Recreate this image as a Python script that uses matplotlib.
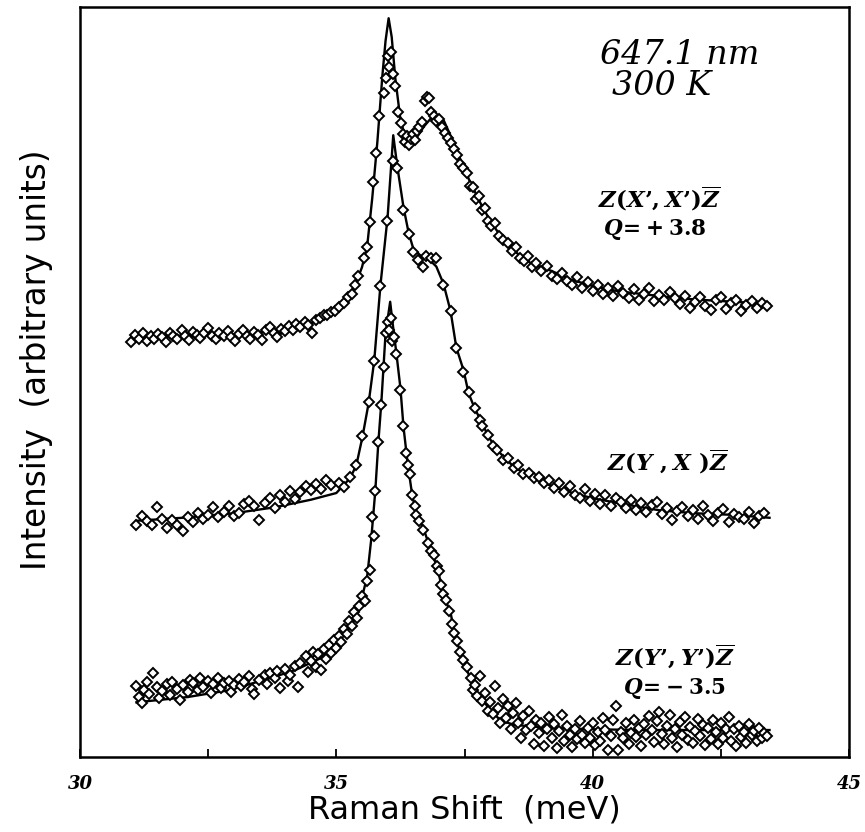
import matplotlib
matplotlib.use("Agg")
import matplotlib.pyplot as plt

# fitted Fano curves (x in meV, y in arbitrary units, offsets included)
fit_xx_x = [31.0, 32.0, 33.0, 33.5, 34.0, 34.5, 34.8, 35.0, 35.2, 35.35, 35.5, 35.6, 35.7, 35.8,
            35.9, 35.96, 36.02, 36.08, 36.15, 36.25, 36.35, 36.45, 36.55, 36.7, 36.85, 36.97,
            37.1, 37.25, 37.4, 37.6, 37.8, 38.0, 38.2, 38.5, 38.8, 39.2, 39.6, 40.0, 40.5,
            41.0, 41.5, 42.0, 42.5, 43.0, 43.45]
fit_xx_y = [56.0, 56.2, 56.3, 56.6, 57.0, 57.8, 58.8, 59.8, 61.0, 62.6, 65.3, 68.0, 74.5, 82.0,
            91.0, 95.5, 98.5, 96.0, 90.5, 85.0, 82.5, 81.9, 82.4, 84.0, 85.2, 85.6,
            84.8, 82.5, 80.0, 76.8, 74.0, 71.5, 69.5, 67.3, 65.8, 64.8, 63.6, 62.8, 62.1,
            61.7, 61.3, 61.0, 60.8, 60.6, 60.4]

fit_yx_x = [31.1, 32.0, 33.0, 33.8, 34.5, 35.0, 35.27, 35.39, 35.51, 35.63, 35.74, 35.86, 36.0,
            36.11, 36.19, 36.31, 36.41, 36.5, 36.65, 36.8, 36.95, 37.09, 37.23, 37.34, 37.48,
            37.58, 37.71, 37.85, 37.95, 38.14, 38.46, 38.73, 39.0, 39.4, 40.0, 40.7, 41.3,
            42.0, 42.7, 43.45]
fit_yx_y = [31.5, 31.9, 32.5, 33.3, 34.3, 35.2, 37.2, 38.9, 42.7, 47.2, 52.9, 62.9, 72.0,
            82.9, 78.7, 73.3, 69.9, 67.8, 66.8, 66.4, 65.4, 63.1, 59.4, 54.6, 51.6,
            48.5, 46.3, 44.5, 42.9, 40.9, 38.7, 37.6, 36.7, 35.6, 34.5, 33.6, 32.9,
            32.5, 32.3, 31.9]

fit_yy_x = [31.1, 32.1, 32.9, 33.7, 34.2, 34.7, 35.0, 35.27, 35.47, 35.6, 35.68, 35.76, 35.82,
            35.88, 35.92, 35.96, 36.05, 36.09, 36.17, 36.25, 36.31, 36.39, 36.48, 36.56, 36.7,
            36.84, 36.97, 37.09, 37.23, 37.32, 37.48, 37.62, 37.75, 38.0, 38.2, 38.46, 39.1,
            40.0, 41.0, 42.0, 43.45]
fit_yy_y = [7.3, 8.0, 8.9, 10.5, 11.6, 13.2, 15.2, 17.9, 20.5, 24.0, 29.0, 35.5, 42.0,
            47.5, 52.0, 56.5, 60.7, 58.3, 53.9, 49.2, 44.0, 39.2, 34.9, 32.5, 30.5,
            27.6, 25.3, 21.6, 19.2, 15.9, 12.9, 10.3, 8.5, 6.3, 4.9, 4.3, 3.9,
            3.7, 3.6, 3.6, 3.6]

# measured points
pts_xx_x = [31.0, 31.08, 31.15, 31.22, 31.3, 31.38, 31.45, 31.52, 31.6, 31.68, 31.75, 31.82,
            31.9, 31.98, 32.05, 32.12, 32.2, 32.28, 32.35, 32.42, 32.5, 32.58, 32.65, 32.72,
            32.8, 32.88, 32.95, 33.02, 33.1, 33.18, 33.25, 33.32, 33.4, 33.48, 33.55, 33.62,
            33.7, 33.78, 33.85, 33.92, 34.0, 34.08, 34.15, 34.22, 34.3, 34.38, 34.45, 34.52,
            34.6, 34.68, 34.75, 34.82, 34.9, 34.98, 35.05, 35.14, 35.22, 35.31, 35.37, 35.43,
            35.53, 35.59, 35.66, 35.72, 35.78, 35.84, 35.92, 35.97, 36.0, 36.03, 36.06, 36.1,
            36.14, 36.2, 36.26, 36.3, 36.34, 36.38, 36.42, 36.46, 36.5, 36.54, 36.58, 36.62,
            36.68, 36.72, 36.76, 36.8, 36.85, 36.9, 36.95, 37.0, 37.06, 37.12, 37.18, 37.24,
            37.3, 37.36, 37.42, 37.48, 37.54, 37.6, 37.66, 37.72, 37.78, 37.84, 37.9, 37.96,
            38.02, 38.1, 38.18, 38.26, 38.34, 38.42, 38.5, 38.58, 38.66, 38.74, 38.82, 38.9,
            39.0, 39.1, 39.2, 39.3, 39.4, 39.5, 39.6, 39.7, 39.8, 39.9, 40.0, 40.1, 40.2,
            40.3, 40.4, 40.5, 40.6, 40.7, 40.8, 40.9, 41.0, 41.1, 41.2, 41.3, 41.4, 41.5,
            41.6, 41.7, 41.8, 41.9, 42.0, 42.1, 42.2, 42.3, 42.4, 42.5, 42.6, 42.7, 42.8,
            42.9, 43.0, 43.1, 43.2, 43.3, 43.4]
pts_xx_y = [55.4, 56.3, 55.8, 56.6, 55.5, 56.1, 55.7, 56.4, 56.0, 55.3, 56.5, 56.2,
            55.8, 56.9, 56.1, 55.6, 56.7, 56.3, 55.9, 56.5, 57.2, 56.2, 55.7, 56.6,
            56.1, 56.8, 56.0, 55.5, 56.4, 57.0, 56.2, 55.8, 56.7, 56.3, 55.6, 56.9,
            57.3, 56.5, 56.0, 57.1, 56.8, 57.5, 57.0, 57.8, 57.4, 58.0, 57.6, 56.6,
            58.3, 58.6, 58.9, 58.9, 59.3, 59.5, 60.0, 60.5, 61.3, 61.7, 63.0, 64.2,
            66.5, 68.0, 71.3, 76.7, 80.5, 85.5, 88.5, 90.5, 93.5, 92.0, 94.0, 91.0,
            89.5, 86.0, 84.5, 83.0, 82.0, 82.8, 81.6, 82.4, 83.0, 82.2, 83.5, 84.0,
            84.6, 87.5, 88.0, 87.8, 86.0, 85.5, 84.8, 85.0, 84.0, 83.2, 82.5, 81.8,
            81.0, 80.2, 79.0, 78.5, 77.8, 76.2, 76.0, 74.4, 74.8, 72.9, 73.2, 71.5,
            70.8, 71.2, 69.5, 69.0, 68.6, 67.5, 68.0, 66.6, 66.2, 66.8, 65.4, 65.9,
            64.8, 65.5, 64.2, 63.7, 64.6, 63.5, 63.0, 64.0, 62.6, 63.3, 62.2, 63.0, 61.8,
            62.6, 61.5, 62.8, 61.9, 61.2, 62.4, 61.0, 61.8, 62.5, 60.8, 61.6, 60.9, 62.0,
            61.2, 60.4, 61.5, 59.9, 60.7, 61.4, 60.2, 59.6, 60.9, 61.3, 59.8, 60.5, 61.0,
            59.5, 60.3, 60.8, 59.9, 60.5, 60.2]

pts_yx_x = [31.1, 31.2, 31.3, 31.4, 31.5, 31.6, 31.7, 31.8, 31.9, 32.0, 32.1, 32.2, 32.3,
            32.4, 32.5, 32.6, 32.7, 32.8, 32.9, 33.0, 33.1, 33.2, 33.3, 33.4, 33.5, 33.6,
            33.7, 33.8, 33.9, 34.0, 34.1, 34.2, 34.3, 34.4, 34.5, 34.6, 34.7, 34.8, 34.9,
            35.05, 35.15, 35.27, 35.39, 35.51, 35.63, 35.74, 35.86, 35.98, 36.1, 36.19,
            36.31, 36.41, 36.5, 36.6, 36.7, 36.75, 36.85, 36.95, 37.09, 37.23, 37.34, 37.48,
            37.58, 37.71, 37.8, 37.85, 37.95, 38.05, 38.14, 38.25, 38.35, 38.46, 38.55,
            38.65, 38.75, 38.85, 38.95, 39.05, 39.15, 39.25, 39.35, 39.45, 39.55, 39.65,
            39.75, 39.85, 39.95, 40.05, 40.15, 40.25, 40.35, 40.45, 40.55, 40.65, 40.75,
            40.85, 40.95, 41.05, 41.15, 41.25, 41.35, 41.45, 41.55, 41.65, 41.75, 41.85,
            41.95, 42.05, 42.15, 42.25, 42.35, 42.45, 42.55, 42.65, 42.75, 42.85, 42.95,
            43.05, 43.15, 43.25, 43.35]
pts_yx_y = [31.0, 32.2, 31.5, 31.0, 33.4, 31.8, 30.5, 31.6, 30.9, 30.2, 32.0, 31.4, 32.6,
            31.8, 32.3, 33.3, 32.0, 32.7, 33.5, 32.1, 32.6, 33.8, 34.2, 33.5, 31.6, 33.9,
            34.6, 33.2, 34.9, 34.0, 35.5, 34.4, 35.3, 36.1, 35.6, 36.4, 35.8, 37.0, 36.3,
            36.5, 36.0, 37.3, 39.0, 42.8, 47.3, 52.8, 62.8, 71.5, 79.5, 78.5,
            73.0, 69.8, 67.3, 66.3, 65.3, 66.8, 66.5, 66.6, 63.0, 59.5, 54.6, 51.4,
            48.7, 46.5, 45.0, 44.2, 43.0, 41.5, 41.0, 39.6, 39.9, 38.6, 38.9,
            37.8, 37.9, 37.2, 37.4, 36.5, 36.9, 35.9, 36.6, 35.3, 36.1, 35.0,
            34.6, 35.7, 34.2, 35.1, 33.8, 34.9, 33.5, 34.5, 34.0, 33.2, 34.3,
            33.0, 33.9, 32.7, 33.6, 34.0, 32.4, 33.2, 31.6, 32.8, 33.3, 32.2,
            32.9, 31.8, 33.5, 32.3, 31.5, 32.6, 33.1, 31.3, 32.4, 32.0, 31.7,
            32.7, 31.2, 32.1, 32.5]

pts_yy_x = [31.1, 31.15, 31.2, 31.25, 31.3, 31.35, 31.43, 31.5, 31.55, 31.6, 31.7, 31.75,
            31.8, 31.9, 31.95, 32.0, 32.1, 32.15, 32.2, 32.3, 32.35, 32.4, 32.5, 32.55,
            32.6, 32.7, 32.75, 32.8, 32.9, 32.95, 33.0, 33.1, 33.15, 33.2, 33.3, 33.35,
            33.4, 33.5, 33.6, 33.65, 33.7, 33.8, 33.85, 33.9, 34.0, 34.05, 34.1, 34.2,
            34.25, 34.3, 34.4, 34.45, 34.5, 34.55, 34.6, 34.65, 34.7, 34.75, 34.8, 34.85,
            34.9, 34.95, 35.0, 35.05, 35.1, 35.15, 35.2, 35.25, 35.3, 35.35, 35.4, 35.45,
            35.5, 35.55, 35.6, 35.65, 35.7, 35.73, 35.76, 35.82, 35.88, 35.92, 35.96, 36.0,
            36.03, 36.06, 36.09, 36.13, 36.17, 36.25, 36.31, 36.36, 36.39, 36.43, 36.48,
            36.53, 36.56, 36.62, 36.7, 36.78, 36.84, 36.9, 36.97, 37.0, 37.05, 37.09,
            37.13, 37.2, 37.26, 37.3, 37.35, 37.42, 37.48, 37.55, 37.62, 37.66, 37.7,
            37.75, 37.8, 37.85, 37.9, 37.95, 38.0, 38.05, 38.1, 38.15, 38.2, 38.25, 38.3,
            38.35, 38.4, 38.45, 38.5, 38.55, 38.6, 38.65, 38.7, 38.75, 38.8, 38.85, 38.9,
            38.95, 39.0, 39.05, 39.1, 39.15, 39.2, 39.25, 39.3, 39.35, 39.4, 39.45, 39.5,
            39.55, 39.6, 39.65, 39.7, 39.75, 39.8, 39.85, 39.9, 39.95, 40.0, 40.05, 40.1,
            40.15, 40.2, 40.25, 40.3, 40.35, 40.4, 40.45, 40.5, 40.55, 40.6, 40.65, 40.7,
            40.75, 40.8, 40.85, 40.9, 40.95, 41.0, 41.05, 41.1, 41.15, 41.2, 41.25, 41.3,
            41.35, 41.4, 41.45, 41.5, 41.55, 41.6, 41.65, 41.7, 41.75, 41.8, 41.85, 41.9,
            41.95, 42.0, 42.05, 42.1, 42.15, 42.2, 42.25, 42.3, 42.35, 42.4, 42.45, 42.5,
            42.55, 42.6, 42.65, 42.7, 42.75, 42.8, 42.85, 42.9, 42.95, 43.0, 43.05, 43.1,
            43.15, 43.2, 43.25, 43.3, 43.35, 43.4]
pts_yy_y = [9.5, 8.0, 7.2, 9.0, 10.0, 8.4, 11.2, 9.3, 7.9, 8.8, 9.7, 8.3,
            10.0, 9.1, 7.6, 9.6, 8.7, 10.3, 9.9, 8.9, 10.5, 9.4, 10.1, 8.6,
            9.8, 10.6, 9.2, 9.9, 10.2, 8.7, 9.6, 10.4, 9.5, 10.0, 10.8, 9.1,
            8.4, 10.3, 10.9, 9.8, 11.2, 10.5, 11.5, 9.2, 11.8, 10.2, 11.0, 12.2,
            9.3, 12.6, 13.5, 11.4, 12.8, 14.0, 12.0, 13.7, 11.6, 14.4, 13.1, 15.0,
            13.9, 15.6, 14.6, 16.2, 15.3, 17.1, 16.4, 18.2, 17.5, 19.3, 18.6, 20.1,
            21.5, 20.8, 23.5, 25.0, 32.0, 29.5, 35.5, 42.0, 47.0, 52.0, 56.5, 58.0,
            57.0, 58.5, 55.5, 56.0, 53.8, 49.0, 44.2, 40.5, 39.0, 37.8, 35.0,
            33.5, 32.3, 31.5, 30.3, 28.6, 27.5, 27.0, 25.5, 24.8, 23.0, 21.8,
            21.0, 19.5, 17.8, 16.5, 15.5, 14.0, 13.0, 12.0, 10.5, 9.0, 9.6,
            8.2, 10.8, 7.5, 8.6, 6.2, 7.4, 5.8, 9.5, 6.5, 4.5, 7.8, 5.2,
            6.8, 3.8, 5.9, 7.2, 4.6, 2.5, 5.5, 3.6, 6.2, 4.1, 1.8, 5.0,
            3.2, 4.6, 1.5, 3.8, 5.3, 2.6, 4.4, 1.2, 3.5, 5.6, 2.2, 4.1,
            2.9, 1.4, 3.7, 2.4, 4.8, 3.0, 1.9, 3.9, 2.6, 4.5, 1.6, 3.3,
            2.1, 5.2, 3.6, 0.9, 2.8, 4.9, 6.8, 1.0, 3.4, 2.5, 4.6, 1.8,
            3.2, 5.0, 2.7, 3.9, 1.5, 4.4, 2.9, 5.5, 3.6, 2.0, 4.8, 6.0,
            3.1, 1.7, 4.2, 5.6, 2.6, 3.8, 1.4, 4.7, 3.0, 5.3, 2.3, 4.0,
            1.9, 3.5, 5.1, 2.8, 4.3, 1.6, 3.9, 2.4, 5.0, 3.3, 1.8, 4.5,
            2.6, 3.7, 5.4, 2.1, 3.8, 1.5, 4.1, 2.7, 3.4, 1.9, 4.4, 2.9,
            3.5, 2.2, 3.9, 2.5, 3.2, 2.8]

x_ticks_major = [30, 35, 40, 45]
x_ticks_minor = [32.5, 37.5, 42.5]

plt.rcParams['mathtext.fontset'] = 'custom'
plt.rcParams['mathtext.it'] = 'DejaVu Serif:italic:bold'
plt.rcParams['mathtext.rm'] = 'DejaVu Serif:bold'
plt.rcParams['mathtext.bf'] = 'DejaVu Serif:bold'

fig = plt.figure(figsize=(8.65, 8.32), dpi=100)
ax = fig.add_axes([0.0925, 0.0901, 0.889, 0.9015])

#curves + points
for fx, fy, px, py in [(fit_xx_x, fit_xx_y, pts_xx_x, pts_xx_y),
                       (fit_yx_x, fit_yx_y, pts_yx_x, pts_yx_y),
                       (fit_yy_x, fit_yy_y, pts_yy_x, pts_yy_y)]:
    ax.plot(fx, fy, color='black', lw=1.7, zorder=2)
    ax.plot(px, py, ls='none', marker='D', ms=4.6, mfc='white', mec='black', mew=1.4, zorder=3)

ax.set_xlim(30, 45)
ax.set_ylim(0, 100)
ax.set_xticks(x_ticks_major)
ax.set_xticks(x_ticks_minor, minor=True)
ax.set_yticks([])
ax.tick_params(axis='x', which='both', direction='in', length=6, width=1.3, pad=13)
tick_font = dict(family='DejaVu Serif', style='italic', weight='bold', size=13)
ax.set_xticklabels([str(t) for t in x_ticks_major], fontdict=tick_font)
for s in ax.spines.values():
    s.set_linewidth(1.8)

ax.set_xlabel('Raman Shift  (meV)', fontsize=23, family='DejaVu Sans', labelpad=1)
ax.set_ylabel('Intensity  (arbitrary units)', fontsize=23.5, family='DejaVu Sans')
ax.yaxis.set_label_coords(-0.035, 0.53)

# annotations
ax.text(40.15, 93.6, '647.1 nm', fontsize=24, family='DejaVu Serif', style='italic', va='center')
ax.text(40.38, 89.5, '300 K', fontsize=24, family='DejaVu Serif', style='italic', va='center')
ax.text(40.1, 74.5, r"$Z(X’,X’)\overline{Z}$", fontsize=16.5, va='center')
ax.text(40.2, 70.3, r"$Q\!=\!+3.8$", fontsize=15.5, va='center')
ax.text(40.27, 39.4, r"$Z(Y\ ,X\ )\overline{Z}$", fontsize=16.5, va='center')
ax.text(40.43, 13.4, r"$Z(Y’,Y’)\overline{Z}$", fontsize=16.5, va='center')
ax.text(40.59, 9.2, r"$Q\!=\!-3.5$", fontsize=15.5, va='center')

fig.savefig('out.png', dpi=100)
